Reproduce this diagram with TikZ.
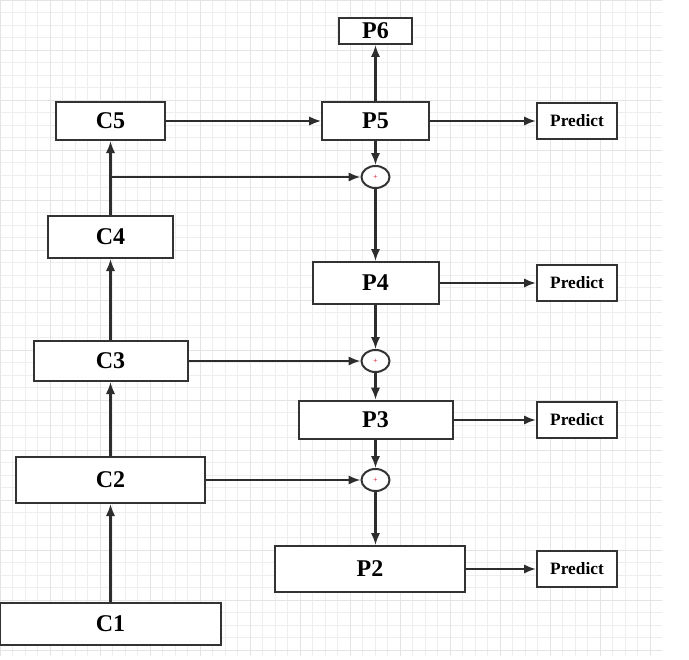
\documentclass[tikz,border=0pt]{standalone}
\usepackage{fontspec}
\setmainfont{Liberation Serif}
\usetikzlibrary{arrows.meta,shapes.geometric}

\tikzset{every picture/.style={line width=0.75pt}}
\tikzset{
  blk/.style={draw={rgb,255:red,51;green,51;blue,51},line width=1.5pt,fill=white,inner sep=0pt,font=\fontsize{18}{18}\selectfont\bfseries},
  pred/.style={blk,font=\fontsize{13}{13}\selectfont\bfseries,minimum width=60pt,minimum height=26.5pt},
  sum/.style={ellipse,draw={rgb,255:red,51;green,51;blue,51},line width=1.5pt,fill=white,minimum width=21pt,minimum height=16.5pt,inner sep=0pt,
    font=\fontsize{6}{6}\selectfont,text={rgb,255:red,208;green,2;blue,27}},
  con/.style={draw={rgb,255:red,45;green,45;blue,45},line width=1.6pt,-{Latex[length=9pt,width=7pt]}}
}

\begin{document}
\begin{tikzpicture}[x=0.75pt,y=0.75pt,yscale=-1,xscale=1]
\useasboundingbox (0,0) rectangle (689,660);

%Grid
\draw [color={rgb,255:red,238;green,238;blue,238},line width=0.5pt,step=12.5] (0,0) grid (662,656);
\draw [color={rgb,255:red,228;green,228;blue,228},line width=0.6pt,step=50] (0,0) grid (662,656);

%Bottom-up blocks
\node [blk,minimum width=82pt,minimum height=28.5pt] (c5) at (110.5,121) {C5};
\node [blk,minimum width=94pt,minimum height=31.5pt] (c4) at (110.5,237) {C4};
\node [blk,minimum width=115.5pt,minimum height=30pt] (c3) at (110.5,361) {C3};
\node [blk,minimum width=142pt,minimum height=34.5pt] (c2) at (110.5,480) {C2};
\node [blk,minimum width=166pt,minimum height=32pt] (c1) at (110.5,624) {C1};

%Top-down blocks
\node [blk,minimum width=55pt,minimum height=19.5pt] (p6) at (375.5,31) {P6};
\node [blk,minimum width=80pt,minimum height=28.5pt] (p5) at (375.5,121) {P5};
\node [blk,minimum width=94.5pt,minimum height=31.5pt] (p4) at (375.5,283) {P4};
\node [blk,minimum width=115.5pt,minimum height=29pt] (p3) at (375.5,420) {P3};
\node [blk,minimum width=142pt,minimum height=34.5pt] (p2) at (370,569) {P2};

%Sums
\node [sum] (s5) at (375.5,177) {+};
\node [sum] (s4) at (375.5,361) {+};
\node [sum] (s3) at (375.5,480) {+};

%Predict
\node [pred] (o5) at (577,121) {Predict};
\node [pred] (o4) at (577,283) {Predict};
\node [pred] (o3) at (577,420) {Predict};
\node [pred] (o2) at (577,569) {Predict};

\coordinate (j5) at (110.5,177);

%Connectors
\draw [con] (c1) -- (c2);
\draw [con] (c2) -- (c3);
\draw [con] (c3) -- (c4);
\draw [con] (c4) -- (c5);
\draw [con] (c5) -- (p5);
\draw [con] (p5) -- (p6);
\draw [con] (p5) -- (s5);
\draw [con] (j5) -- (s5);
\draw [con] (s5) -- (p4);
\draw [con] (p4) -- (s4);
\draw [con] (c3) -- (s4);
\draw [con] (s4) -- (p3);
\draw [con] (p3) -- (s3);
\draw [con] (c2) -- (s3);
\draw [con] (s3.south) -- (s3.south |- p2.north);
\draw [con] (p5) -- (o5);
\draw [con] (p4) -- (o4);
\draw [con] (p3) -- (o3);
\draw [con] (p2) -- (o2);

\end{tikzpicture}
\end{document}
